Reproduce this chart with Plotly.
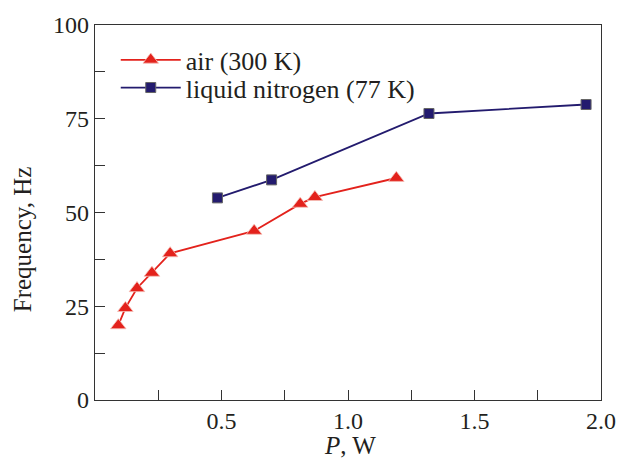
import plotly.graph_objects as go

# Data
air_x = [0.092, 0.120, 0.166, 0.225, 0.297, 0.629, 0.811, 0.869, 1.191]
air_y = [19.9, 24.5, 29.8, 33.9, 39.1, 45.1, 52.3, 54.1, 59.2]
n2_x = [0.484, 0.698, 1.320, 1.941]
n2_y = [53.9, 58.7, 76.4, 78.8]

x_ticks = [0.5, 1.0, 1.5, 2.0]
x_ticktext = ["0.5", "1.0", "1.5", "2.0"]
x_minor = [0.25, 0.75, 1.25, 1.75]
y_ticks = [0, 25, 50, 75, 100]
y_minor = [12.5, 37.5, 62.5, 87.5]

RED = "#e3221c"
NAVY = "#231b6e"
FONT = "Liberation Serif"
TXT = "#231f20"

fig = go.Figure()
fig.add_trace(go.Scatter(
    x=air_x, y=air_y, mode="lines+markers", name="air (300 K)",
    line=dict(color=RED, width=1.8),
    marker=dict(symbol="triangle-up", size=13.5, color=RED,
                line=dict(color="#f5c0b8", width=0.8)),
    legend="legend",
))
fig.add_trace(go.Scatter(
    x=n2_x, y=n2_y, mode="lines+markers", name="liquid nitrogen (77 K)",
    line=dict(color=NAVY, width=1.8),
    marker=dict(symbol="square", size=10, color=NAVY,
                line=dict(color="#666666", width=1)),
    legend="legend2",
))

axis_common = dict(
    showline=True, linecolor="#333333", linewidth=1.3, mirror=True,
    ticks="inside", ticklen=10, tickwidth=1, tickcolor="#333333",
    showgrid=False, zeroline=False, automargin=False,
    tickfont=dict(family=FONT, size=24, color=TXT),
)

leg_common = dict(
    xanchor="left", yanchor="middle",
    bgcolor="rgba(0,0,0,0)", borderwidth=0,
    font=dict(family=FONT, size=26, color=TXT),
    itemwidth=60,
)

fig.update_layout(
    width=617, height=460,
    margin=dict(l=95, r=16, t=25, b=60),
    paper_bgcolor="white", plot_bgcolor="white",
    font=dict(family=FONT, size=24, color=TXT),
    showlegend=True,
    legend=dict(x=0.041, y=0.907, **leg_common),
    legend2=dict(x=0.041, y=0.833, **leg_common),
    xaxis=dict(
        range=[0, 2.0], tickmode="array", tickvals=x_ticks, ticktext=x_ticktext,
        minor=dict(tickmode="array", tickvals=x_minor, ticks="inside", ticklen=10,
                   tickcolor="#333333", showgrid=False),
        ticklabelstandoff=-1,
        **axis_common,
    ),
    yaxis=dict(
        range=[0, 100], tickmode="array", tickvals=y_ticks,
        minor=dict(tickmode="array", tickvals=y_minor, ticks="inside", ticklen=10,
                   tickcolor="#333333", showgrid=False),
        **axis_common,
    ),
    annotations=[
        dict(
            text="Frequency, Hz", textangle=-90, showarrow=False,
            xref="paper", yref="paper", x=-0.144, y=0.429,
            xanchor="center", yanchor="middle",
            font=dict(family=FONT, size=25, color=TXT),
        ),
        dict(
            text="<i>P</i>, W", showarrow=False,
            xref="paper", yref="paper", x=0.504, y=-0.12,
            xanchor="center", yanchor="middle",
            font=dict(family=FONT, size=25, color=TXT),
        ),
    ],
)

fig.write_html("out.html", config={"displayModeBar": False},
               post_script="document.body.style.margin='0';document.body.style.overflow='hidden';")
